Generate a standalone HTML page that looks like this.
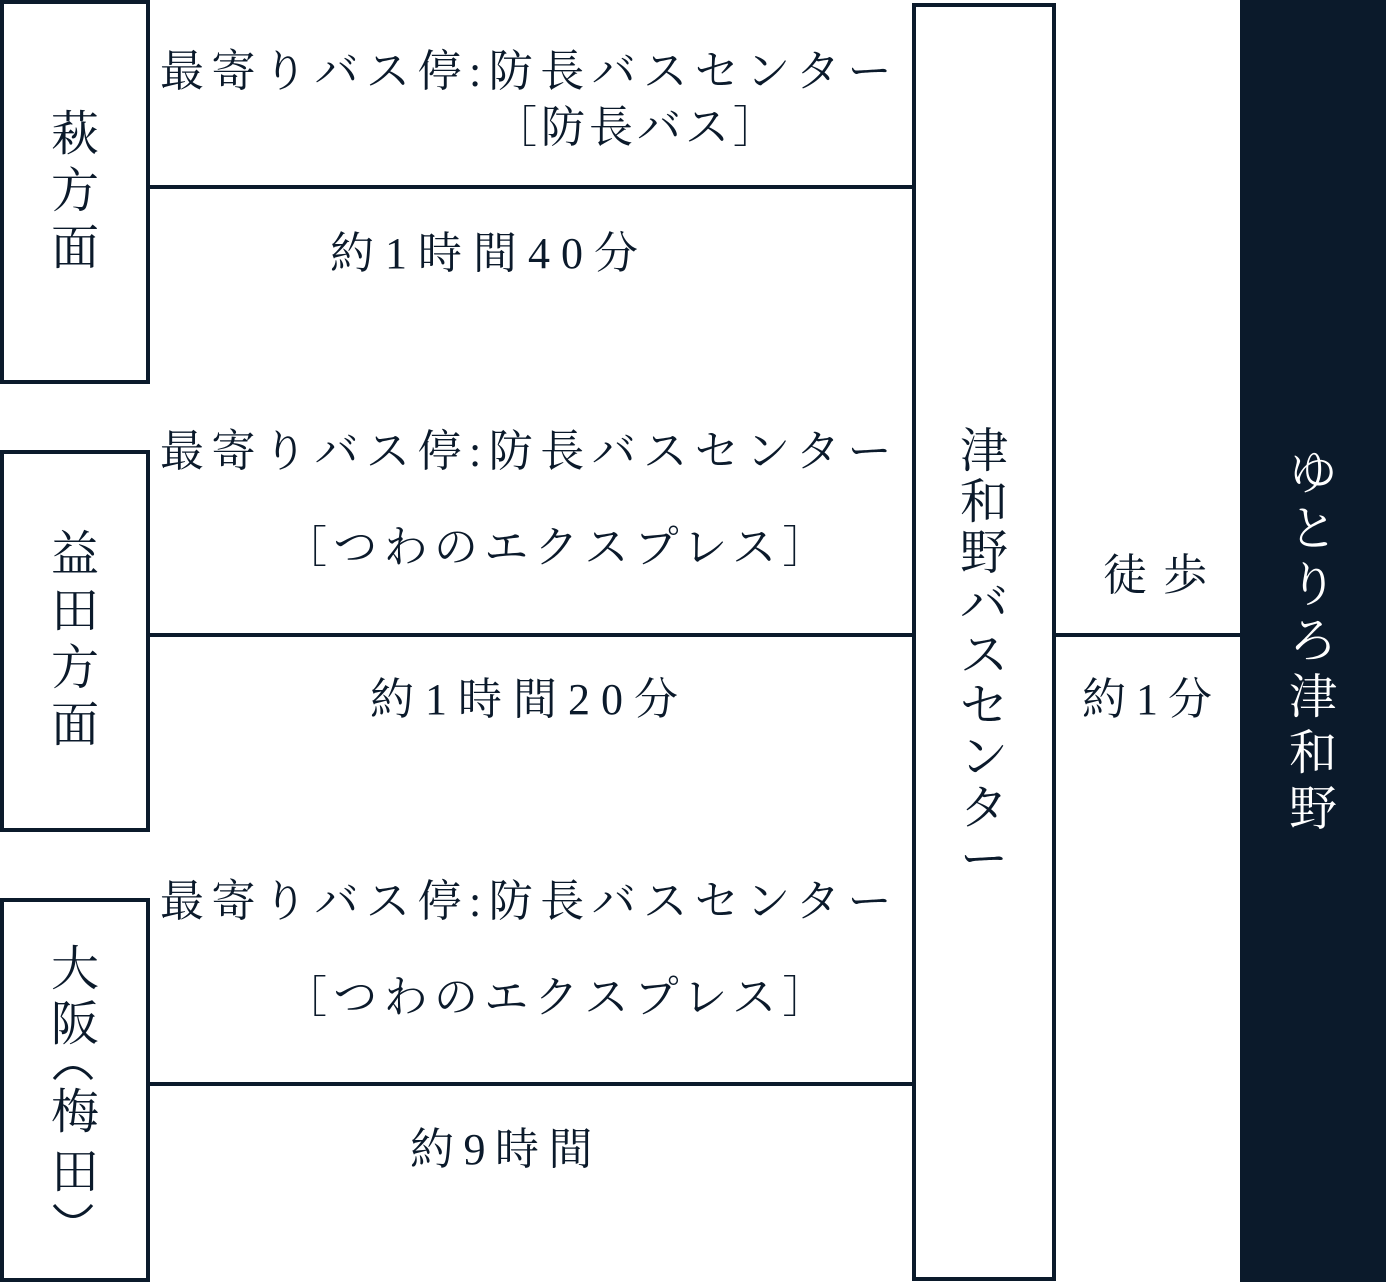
<!DOCTYPE html>
<html><head><meta charset="utf-8"><style>
body{margin:0;width:1386px;height:1282px;background:#fff;position:relative;overflow:hidden;font-family:"Liberation Serif","Noto Serif CJK SC","Noto Serif CJK JP",serif;color:#0b1a2b}
.b{position:absolute;border:4px solid #0b1a2b;box-sizing:border-box}
.l{position:absolute;height:4px;background:#0b1a2b}
.t{position:absolute;font-size:44px;line-height:56px;white-space:nowrap}
.v{position:absolute;font-size:48px;line-height:57px;width:70px;text-align:center}
.c{position:absolute;font-size:48px;line-height:50px;width:70px;text-align:center;left:40px}
</style></head><body>
<div class="b" style="left:0;top:0;width:150px;height:384px"></div>
<div class="b" style="left:0;top:450px;width:150px;height:382px"></div>
<div class="b" style="left:0;top:898px;width:150px;height:384px"></div>
<div class="b" style="left:912px;top:3px;width:144px;height:1278px"></div>
<div class="l" style="left:150px;top:185px;width:762px"></div>
<div class="l" style="left:150px;top:633px;width:762px"></div>
<div class="l" style="left:150px;top:1082px;width:762px"></div>
<div class="l" style="left:1056px;top:633px;width:184px"></div>
<div style="position:absolute;left:1240px;top:0;width:146px;height:1282px;background:#0b1a2b"></div>

<div class="v" style="left:40px;top:106px">萩<br>方<br>面</div>
<div class="v" style="left:40px;top:526px">益<br>田<br>方<br>面</div>
<div class="c" style="top:945px">大</div>
<div class="c" style="top:1000px">阪</div>
<svg style="position:absolute;left:0;top:0" width="150" height="1282">
<path d="M54 1079 Q73 1056 92 1079" fill="none" stroke="#0b1a2b" stroke-width="3"/>
<path d="M54 1205 Q73 1228 92 1205" fill="none" stroke="#0b1a2b" stroke-width="3"/>
</svg>
<div class="c" style="top:1088px">梅</div>
<div class="c" style="top:1148px">田</div>
<div class="v" style="left:949px;top:426px;line-height:51px">津<br>和<br>野<br>バ<br>ス<br>セ<br>ン<br>タ<br>ー</div>
<div class="v" style="left:1278px;top:446px;color:#fff;line-height:56px">ゆ<br>と<br>り<br>ろ<br>津<br>和<br>野</div>

<div class="t" style="left:160px;top:44px;letter-spacing:7.5px">最寄りバス停:防長バスセンター</div>
<div class="t" style="left:493px;top:100px;letter-spacing:4px">［防長バス］</div>
<div class="t" style="left:330px;top:226px;letter-spacing:11px">約1時間40分</div>
<div class="t" style="left:160px;top:424px;letter-spacing:7.5px">最寄りバス停:防長バスセンター</div>
<div class="t" style="left:283px;top:520px;letter-spacing:6.3px">［つわのエクスプレス］</div>
<div class="t" style="left:370px;top:672px;letter-spacing:11px">約1時間20分</div>
<div class="t" style="left:160px;top:874px;letter-spacing:7.5px">最寄りバス停:防長バスセンター</div>
<div class="t" style="left:283px;top:970px;letter-spacing:6.3px">［つわのエクスプレス］</div>
<div class="t" style="left:410px;top:1122px;letter-spacing:9.5px">約9時間</div>
<div class="t" style="left:1103px;top:548px;letter-spacing:16px">徒歩</div>
<div class="t" style="left:1082px;top:672px;letter-spacing:10px">約1分</div>
</body></html>
